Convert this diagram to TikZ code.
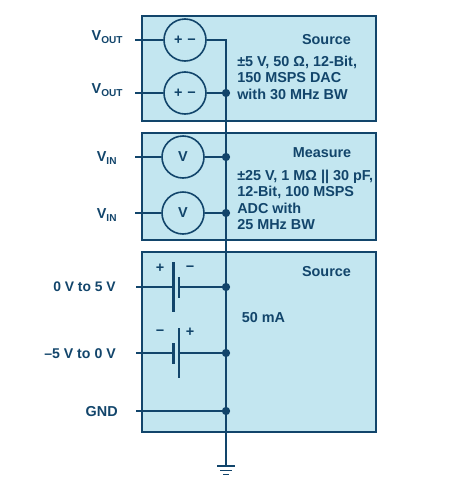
\documentclass[tikz,border=0pt]{standalone}
\usepackage{fontspec}
\setmainfont{Liberation Sans}
\definecolor{ink}{HTML}{12456B}
\definecolor{panel}{HTML}{C3E6F0}
\tikzset{
  panelbox/.style={draw=ink,fill=panel,line width=1.4pt,minimum width=175.5pt,inner sep=0pt,outer sep=0pt,anchor=north west},
  wire/.style={draw=ink,line width=1.2pt},
  meter/.style={circle,draw=ink,line width=1.2pt,minimum size=31.5pt,inner sep=0pt,text=ink,font=\fontsize{10.8}{12}\selectfont\bfseries},
  tag/.style={text=ink,font=\fontsize{10.8}{12.4}\selectfont\bfseries,inner sep=0pt},
  portlabel/.style={tag,anchor=east},
  blurb/.style={tag,anchor=north west,align=left},
  junction/.style={circle,fill=ink,minimum size=6.2pt,inner sep=0pt},
}
\newcommand{\sub}[1]{\textsubscript{#1}}
\begin{document}
\begin{tikzpicture}[x=0.75pt,y=-0.75pt]
\useasboundingbox (0,0) rectangle (470,479);
% panels
\node[panelbox,minimum height=78.75pt] (p1) at (142,16) {};
\node[panelbox,minimum height=80.25pt] (p2) at (142,133) {};
\node[panelbox,minimum height=135pt] (p3) at (142,252) {};
% free ends
\coordinate (o1) at (135,40);
\coordinate (o2) at (135,93);
\coordinate (i1) at (135,157);
\coordinate (i2) at (135,213);
\coordinate (s1) at (136,287);
\coordinate (s2) at (136,353);
\coordinate (s3) at (136,411);
\coordinate (top) at (226,40);
\coordinate (gnd) at (226,466);
% sources and meters
\node[meter] (m1) at (185,40) {+\,\,−};
\node[meter] (m2) at (185,93) {+\,\,−};
\node[meter] (m3) at (183,157) {V};
\node[meter] (m4) at (183,213) {V};
% junctions
\node[junction] (j2) at (226,93) {};
\node[junction] (j3) at (226,157) {};
\node[junction] (j4) at (226,213) {};
\node[junction] (j5) at (226,287) {};
\node[junction] (j6) at (226,353) {};
\node[junction] (j7) at (226,411) {};
% bus
\draw[wire] (m1) -- (top) -- (gnd);
\draw[wire] (o1) -- (m1);
\draw[wire] (o2) -- (m2) -- (j2);
\draw[wire] (i1) -- (m3) -- (j3);
\draw[wire] (i2) -- (m4) -- (j4);
\draw[wire] (s3) -- (j7);
% battery 1
\coordinate (b1l) at (173.5,287);
\coordinate (b1s) at (179,287);
\draw[wire] (s1) -- (b1l);
\draw[wire] (b1s) -- (j5);
\draw[wire,line width=1.6pt] (173.5,262) -- (173.5,312);
\draw[wire,line width=1.6pt] (179,277) -- (179,298);
% battery 2
\coordinate (b2s) at (173.5,353);
\coordinate (b2l) at (179,353);
\draw[wire] (s2) -- (b2s);
\draw[wire] (b2l) -- (j6);
\draw[wire,line width=1.6pt] (173.5,343) -- (173.5,364);
\draw[wire,line width=1.6pt] (179,328) -- (179,378);
% ground
\draw[wire,line width=1.4pt] (217,466) -- (235,466);
\draw[wire,line width=1.4pt] (220,470.5) -- (232,470.5);
\draw[wire,line width=1.4pt] (223,474.5) -- (229,474.5);
% polarity
\node[tag] (pa) at (160,268.5) {+};
\node[tag] (pb) at (190,268.5) {−};
\node[tag] (pc) at (160,332.5) {−};
\node[tag] (pd) at (190,332.5) {+};
% port labels
\node[portlabel] (l1) at (123.5,37) {V\sub{OUT}};
\node[portlabel] (l2) at (123.5,90) {V\sub{OUT}};
\node[portlabel] (l3) at (117.5,158) {V\sub{IN}};
\node[portlabel] (l4) at (117.5,215) {V\sub{IN}};
\node[portlabel,font=\fontsize{10.4}{12}\selectfont\bfseries] (l5) at (116,286.5) {0 V to 5 V};
\node[portlabel,font=\fontsize{10.6}{12}\selectfont\bfseries] (l6) at (116,353.5) {–5 V to 0 V};
\node[portlabel] (l7) at (118,411.5) {GND};
% panel text
\node[tag] (t1) at (326.5,40) {Source};
\node[blurb] (t2) at (237,55.5) {±5 V, 50 Ω, 12-Bit,\\150 MSPS DAC\\with 30 MHz BW};
\node[tag] (t3) at (322,153) {Measure};
\node[blurb] (t4) at (237,169.5) {±25 V, 1 MΩ || 30 pF,\\12-Bit, 100 MSPS\\ADC with\\25 MHz BW};
\node[tag] (t5) at (326.5,272) {Source};
\node[tag] (t6) at (263.5,318) {50 mA};
\end{tikzpicture}
\end{document}
